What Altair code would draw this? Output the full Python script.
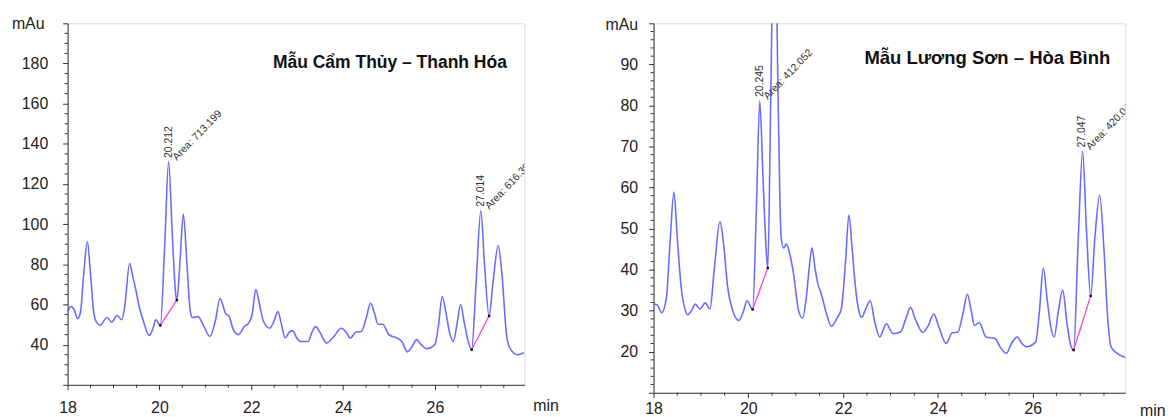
import altair as alt
import pandas as pd

FONT = "Liberation Sans, Arial, Helvetica, sans-serif"
BLUE = "#5a5cff"
PINK = "#ff3fd0"
TXT = "#222222"

# ---------------- Left panel: Mẫu Cẩm Thủy – Thanh Hóa ----------------
L_TIME = [18.00, 18.08, 18.14, 18.22, 18.28, 18.35, 18.43, 18.50, 18.57, 18.65,
          18.72, 18.78, 18.86, 18.96, 19.08, 19.18, 19.25, 19.35, 19.42, 19.48,
          19.56, 19.66, 19.78, 19.86, 19.92, 20.02, 20.12, 20.20, 20.28, 20.36,
          20.38, 20.45, 20.52, 20.60, 20.67, 20.72, 20.84, 20.95, 21.10, 21.22,
          21.32, 21.44, 21.52, 21.60, 21.72, 21.85, 21.95, 22.02, 22.10, 22.18,
          22.26, 22.40, 22.50, 22.58, 22.66, 22.74, 22.82, 22.90, 23.00, 23.08,
          23.24, 23.32, 23.40, 23.50, 23.64, 23.80, 23.96, 24.06, 24.16, 24.28,
          24.40, 24.50, 24.60, 24.68, 24.76, 24.86, 25.00, 25.20, 25.28, 25.40,
          25.50, 25.60, 25.70, 25.82, 26.00, 26.08, 26.16, 26.24, 26.32, 26.40,
          26.48, 26.56, 26.64, 26.72, 26.80, 26.90, 27.00, 27.08, 27.18, 27.27,
          27.38, 27.46, 27.56, 27.64, 27.80, 27.94]
L_MAU = [56.5, 59.0, 57.5, 53.0, 56.0, 75.0, 91.4, 75.0, 56.0, 50.5,
         49.6, 51.5, 53.5, 51.2, 54.5, 52.4, 60.0, 80.4, 74.0, 68.0,
         59.0, 51.0, 44.6, 48.0, 52.4, 49.6, 92.0, 131.0, 95.0, 64.0,
         62.2, 82.0, 105.0, 80.0, 57.0, 53.5, 54.0, 50.0, 44.1, 52.0,
         63.0, 55.6, 54.0, 48.0, 45.0, 49.0, 51.0, 55.0, 67.5, 60.0,
         52.0, 48.2, 52.0, 56.5, 50.0, 43.3, 46.0, 47.0, 43.0, 41.6,
         41.6, 46.0, 49.0, 46.0, 40.8, 44.0, 48.2, 46.5, 43.3, 46.3,
         46.6, 53.0, 60.6, 56.0, 50.2, 50.2, 45.0, 43.0, 41.6, 36.4,
         39.0, 42.5, 40.0, 38.0, 40.0, 50.0, 64.0, 56.0, 46.0, 41.6,
         50.0, 60.0, 51.0, 42.0, 37.5, 72.0, 106.7, 80.0, 54.3, 72.0,
         89.4, 75.0, 45.0, 38.0, 35.0, 36.0]
L_BASE_T1 = [20.02, 26.80]
L_BASE_V1 = [49.6, 37.5]
L_BASE_T2 = [20.38, 27.18]
L_BASE_V2 = [62.2, 54.3]
L_RT = [20.212, 27.014]
L_RT_V = [131.0, 106.7]
L_RT_TXT = ["20.212", "27.014"]
L_AREA_TXT = ["Area: 713.199", "Area: 616.391"]
L_TITLE = "Mẫu Cẩm Thủy – Thanh Hóa"
L_TITLE_POS = (25.02, 180.0)

# ---------------- Right panel: Mẫu Lương Sơn – Hòa Bình ----------------
R_TIME = [18.00, 18.08, 18.17, 18.27, 18.35, 18.43, 18.50, 18.58, 18.66, 18.72,
          18.80, 18.88, 18.98, 19.09, 19.19, 19.28, 19.40, 19.48, 19.56, 19.66,
          19.80, 19.90, 19.97, 20.09, 20.17, 20.24, 20.31, 20.38, 20.41, 20.47,
          20.55, 20.63, 20.69, 20.74, 20.80, 20.87, 20.95, 21.06, 21.14, 21.22,
          21.28, 21.34, 21.41, 21.47, 21.53, 21.65, 21.75, 21.88, 21.96, 22.05,
          22.12, 22.19, 22.25, 22.32, 22.39, 22.48, 22.57, 22.67, 22.77, 22.91,
          23.05, 23.21, 23.32, 23.42, 23.52, 23.68, 23.80, 23.91, 24.02, 24.17,
          24.30, 24.42, 24.52, 24.62, 24.70, 24.77, 24.87, 25.01, 25.20, 25.32,
          25.44, 25.55, 25.67, 25.77, 25.87, 26.06, 26.14, 26.22, 26.30, 26.38,
          26.45, 26.54, 26.63, 26.72, 26.80, 26.86, 26.96, 27.05, 27.13, 27.22,
          27.31, 27.41, 27.50, 27.58, 27.65, 27.78, 27.95]
R_MAU = [31.6, 31.4, 29.5, 33.0, 47.0, 58.9, 48.0, 36.0, 30.5, 29.0,
         30.0, 31.6, 30.4, 31.9, 30.4, 40.0, 51.7, 46.0, 36.0, 30.4,
         27.6, 30.0, 32.4, 30.3, 55.0, 81.1, 62.0, 44.0, 40.4, 80.0,
         135.0, 80.0, 48.0, 45.3, 46.2, 44.0, 39.2, 30.0, 28.2, 33.0,
         40.0, 45.3, 40.0, 36.4, 34.4, 29.2, 26.2, 28.4, 30.4, 42.0,
         53.3, 45.0, 36.8, 30.5, 28.4, 30.5, 32.4, 27.0, 23.6, 26.8,
         24.4, 24.8, 28.0, 30.8, 28.0, 24.7, 26.5, 29.2, 26.0, 22.0,
         24.6, 24.8, 29.0, 34.0, 30.0, 26.4, 27.1, 23.6, 23.2, 21.0,
         19.6, 22.0, 23.6, 22.0, 21.2, 22.4, 30.0, 40.4, 33.0, 26.0,
         23.6, 30.0, 35.0, 27.0, 21.5, 20.4, 48.0, 68.8, 50.0, 33.6,
         48.0, 58.1, 45.0, 28.0, 21.2, 19.6, 18.6]
R_BASE_T1 = [20.09, 26.86]
R_BASE_V1 = [30.3, 20.4]
R_BASE_T2 = [20.41, 27.22]
R_BASE_V2 = [40.4, 33.6]
R_RT = [20.245, 27.047]
R_RT_V = [81.1, 68.8]
R_RT_TXT = ["20.245", "27.047"]
R_AREA_TXT = ["Area: 412.052", "Area: 420.04"]
R_TITLE = "Mẫu Lương Sơn – Hòa Bình"
R_TITLE_POS = (25.04, 91.6)

X_MAJOR = [18, 20, 22, 24, 26]
X_MINOR = [18.5, 19, 19.5, 20.5, 21, 21.5, 22.5, 23, 23.5, 24.5, 25, 25.5,
           26.5, 27, 27.5]
L_Y_MAJOR = [20, 40, 60, 80, 100, 120, 140, 160, 180, 200]
L_Y_MINOR = [v for v in range(25, 200, 5) if v % 20 != 0]
R_Y_MAJOR = [10, 20, 30, 40, 50, 60, 70, 80, 90, 100]
R_Y_MINOR = [v for v in range(12, 100, 2) if v % 10 != 0]


def panel(time, mau, b1t, b1v, b2t, b2v, rt, rtv, rttxt, areatxt, title, tpos,
          title_size, ydom, ymaj, ymin, ylab_lo, ylab_hi, w, h, min_dx, min_dy,
          mau_dx, mau_dy, ylabpad, xlabpad):
    xs = alt.Scale(domain=[18, 27.95], nice=False, zero=False)
    ys = alt.Scale(domain=ydom, nice=False, zero=False)
    common = dict(labelFont=FONT, labelFontSize=16, labelColor=TXT,
                  titleFont=FONT, titleFontSize=16, titleColor=TXT,
                  titleFontWeight="normal", domainColor="#333333",
                  tickColor="#333333", grid=False, labelOverlap=False)
    xaxis = alt.Axis(values=X_MAJOR, title="min", titleX=w + min_dx,
                     titleY=min_dy, titleAlign="left", titleBaseline="middle",
                     labelFlush=False, tickSize=5, labelPadding=xlabpad,
                     **common)
    yaxis = alt.Axis(values=ymaj, title="mAu", titleAngle=0, titleX=mau_dx,
                     titleY=mau_dy, titleAlign="right", titleBaseline="middle",
                     labelExpr=f"datum.value >= {ylab_lo} && datum.value <= {ylab_hi} ? datum.label : ''",
                     labelFlush=False, tickSize=5, labelPadding=ylabpad,
                     **common)

    df = pd.DataFrame({"t": time, "v": mau})
    line = alt.Chart(df).mark_line(color=BLUE, strokeWidth=1.6,
                                   interpolate="monotone", clip=True,
                                   opacity=0.9).encode(
        x=alt.X("t:Q", scale=xs, axis=xaxis),
        y=alt.Y("v:Q", scale=ys, axis=yaxis))

    bdf = pd.DataFrame({"t": b1t, "v": b1v, "t2": b2t, "v2": b2v})
    base = alt.Chart(bdf).mark_rule(color=PINK, strokeWidth=1.3).encode(
        x=alt.X("t:Q", scale=xs, axis=xaxis),
        y=alt.Y("v:Q", scale=ys, axis=yaxis),
        x2="t2:Q", y2="v2:Q")
    edf = pd.DataFrame({"t": list(b1t) + list(b2t), "v": list(b1v) + list(b2v)})
    ends = alt.Chart(edf).mark_square(size=6, color="#111111", opacity=1).encode(
        x=alt.X("t:Q", scale=xs, axis=xaxis),
        y=alt.Y("v:Q", scale=ys, axis=yaxis))

    adf = pd.DataFrame({"t": rt, "v": rtv, "rt": rttxt, "area": areatxt})
    rt_text = alt.Chart(adf).mark_text(
        angle=270, align="left", baseline="middle", dx=4, font=FONT,
        fontSize=10.5, color="#333333", clip=True).encode(
        x=alt.X("t:Q", scale=xs, axis=xaxis),
        y=alt.Y("v:Q", scale=ys, axis=yaxis), text="rt:N")
    area_text = alt.Chart(adf).mark_text(
        angle=314, align="left", baseline="middle", dx=6, dy=2, font=FONT,
        fontSize=10.5, color="#333333", clip=True).encode(
        x=alt.X("t:Q", scale=xs, axis=xaxis),
        y=alt.Y("v:Q", scale=ys, axis=yaxis), text="area:N")

    tdf = pd.DataFrame({"t": [tpos[0]], "v": [tpos[1]], "label": [title]})
    ttl = alt.Chart(tdf).mark_text(font=FONT, fontSize=title_size,
                                   fontWeight="bold", color="#111111",
                                   align="center", baseline="middle").encode(
        x=alt.X("t:Q", scale=xs, axis=xaxis),
        y=alt.Y("v:Q", scale=ys, axis=yaxis), text="label:N")

    xm = pd.DataFrame({"t": X_MINOR})
    xminor = alt.Chart(xm).mark_rule(color="#333333", strokeWidth=1).encode(
        x=alt.X("t:Q", scale=xs, axis=xaxis),
        y=alt.value(h), y2=alt.value(h + 3))
    ym = pd.DataFrame({"v": ymin})
    yminor = alt.Chart(ym).mark_rule(color="#333333", strokeWidth=1).encode(
        y=alt.Y("v:Q", scale=ys, axis=yaxis),
        x=alt.value(0), x2=alt.value(-3))

    return alt.layer(xminor, yminor, line, base, ends, rt_text, area_text,
                     ttl).properties(width=w, height=h)


left = panel(L_TIME, L_MAU, L_BASE_T1, L_BASE_V1, L_BASE_T2, L_BASE_V2,
             L_RT, L_RT_V, L_RT_TXT, L_AREA_TXT, L_TITLE, L_TITLE_POS, 17.6,
             [20, 200], L_Y_MAJOR, L_Y_MINOR, 40, 180, 460, 364,
             8.5, 21.3, -23.7, 0, 15, 10)
right = panel(R_TIME, R_MAU, R_BASE_T1, R_BASE_V1, R_BASE_T2, R_BASE_V2,
              R_RT, R_RT_V, R_RT_TXT, R_AREA_TXT, R_TITLE, R_TITLE_POS, 18.6,
              [10, 100], R_Y_MAJOR, R_Y_MINOR, 20, 90, 475, 372,
              14.3, 17.7, -16, 1.7, 11, 3)

chart = alt.hconcat(left, right, spacing=45).properties(
    padding={"left": 2, "top": 5, "right": 0, "bottom": 0}
).configure_view(stroke=None).configure(background="white")

chart.save("out.html", embed_options={"renderer": "svg", "actions": False})
